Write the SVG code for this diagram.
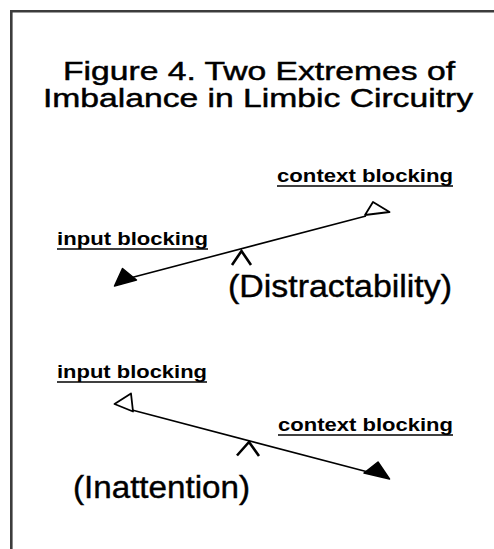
<svg xmlns="http://www.w3.org/2000/svg" width="494" height="549" viewBox="0 0 494 549">
  <style>
    .title { font-family: "Liberation Sans", Arial, sans-serif; font-size: 25px; fill: #000; stroke: #000; stroke-width: 0.45; }
    .state { font-family: "Liberation Sans", Arial, sans-serif; font-size: 31px; fill: #000; stroke: #000; stroke-width: 0.4; }
    .label { font-family: "Liberation Sans", Arial, sans-serif; font-size: 18px; font-weight: bold; fill: #000; }
    .uline { stroke: #000; stroke-width: 1.6; }
    .beam { stroke: #000; stroke-width: 1.6; fill: none; }
    .pivot { stroke: #000; stroke-width: 2.6; fill: none; stroke-linejoin: miter; }
    .open { fill: #fff; stroke: #000; stroke-width: 1.8; stroke-linejoin: round; }
    .solid { fill: #000; stroke: #000; stroke-width: 1.5; stroke-linejoin: round; }
  </style>

  <rect width="494" height="549" fill="#fff"/>

  <!-- frame: only the top and left edges are inside the canvas -->
  <g id="frame" stroke="#3c3c3c" stroke-width="2.6" fill="none">
    <path d="M11.3 549 V11.3 H494"/>
  </g>

  <g id="title">
    <text class="title" x="63" y="80" textLength="392" lengthAdjust="spacingAndGlyphs">Figure 4. Two Extremes of</text>
    <text class="title" x="43" y="107" textLength="430" lengthAdjust="spacingAndGlyphs">Imbalance in Limbic Circuitry</text>
  </g>

  <!-- connectors: the two tilted beams -->
  <g id="connectors">
    <line class="beam" x1="130" y1="278" x2="366" y2="216"/>
    <line class="beam" x1="132" y1="410" x2="368" y2="472"/>
  </g>

  <!-- upper balance: tipped toward input blocking -->
  <g id="distractability">
    <g id="d-context">
      <text class="label" x="277" y="182" textLength="176" lengthAdjust="spacingAndGlyphs">context blocking</text>
      <line class="uline" x1="277" y1="186" x2="453" y2="186"/>
      <polygon class="open" points="373,202 365,215 389.5,212"/>
    </g>
    <g id="d-input">
      <text class="label" x="57" y="245" textLength="151" lengthAdjust="spacingAndGlyphs">input blocking</text>
      <line class="uline" x1="57" y1="249" x2="208" y2="249"/>
      <polygon class="solid" points="122.5,268.5 114.5,286 136.5,280"/>
    </g>
    <g id="d-pivot">
      <polyline class="pivot" points="232,265 241.5,251 251,265"/>
      <text class="state" x="228" y="297" textLength="224" lengthAdjust="spacingAndGlyphs">(Distractability)</text>
    </g>
  </g>

  <!-- lower balance: tipped toward context blocking -->
  <g id="inattention">
    <g id="i-input">
      <text class="label" x="57" y="378" textLength="150" lengthAdjust="spacingAndGlyphs">input blocking</text>
      <line class="uline" x1="57" y1="382" x2="207" y2="382"/>
      <polygon class="open" points="131,393.5 114.5,404 133,411.5"/>
    </g>
    <g id="i-context">
      <text class="label" x="278" y="431" textLength="175" lengthAdjust="spacingAndGlyphs">context blocking</text>
      <line class="uline" x1="278" y1="435" x2="453" y2="435"/>
      <polygon class="solid" points="378,462 364,473 389.5,479"/>
    </g>
    <g id="i-pivot">
      <polyline class="pivot" points="237,455.5 249,442 259,456"/>
      <text class="state" x="73" y="498" textLength="177" lengthAdjust="spacingAndGlyphs">(Inattention)</text>
    </g>
  </g>
</svg>
